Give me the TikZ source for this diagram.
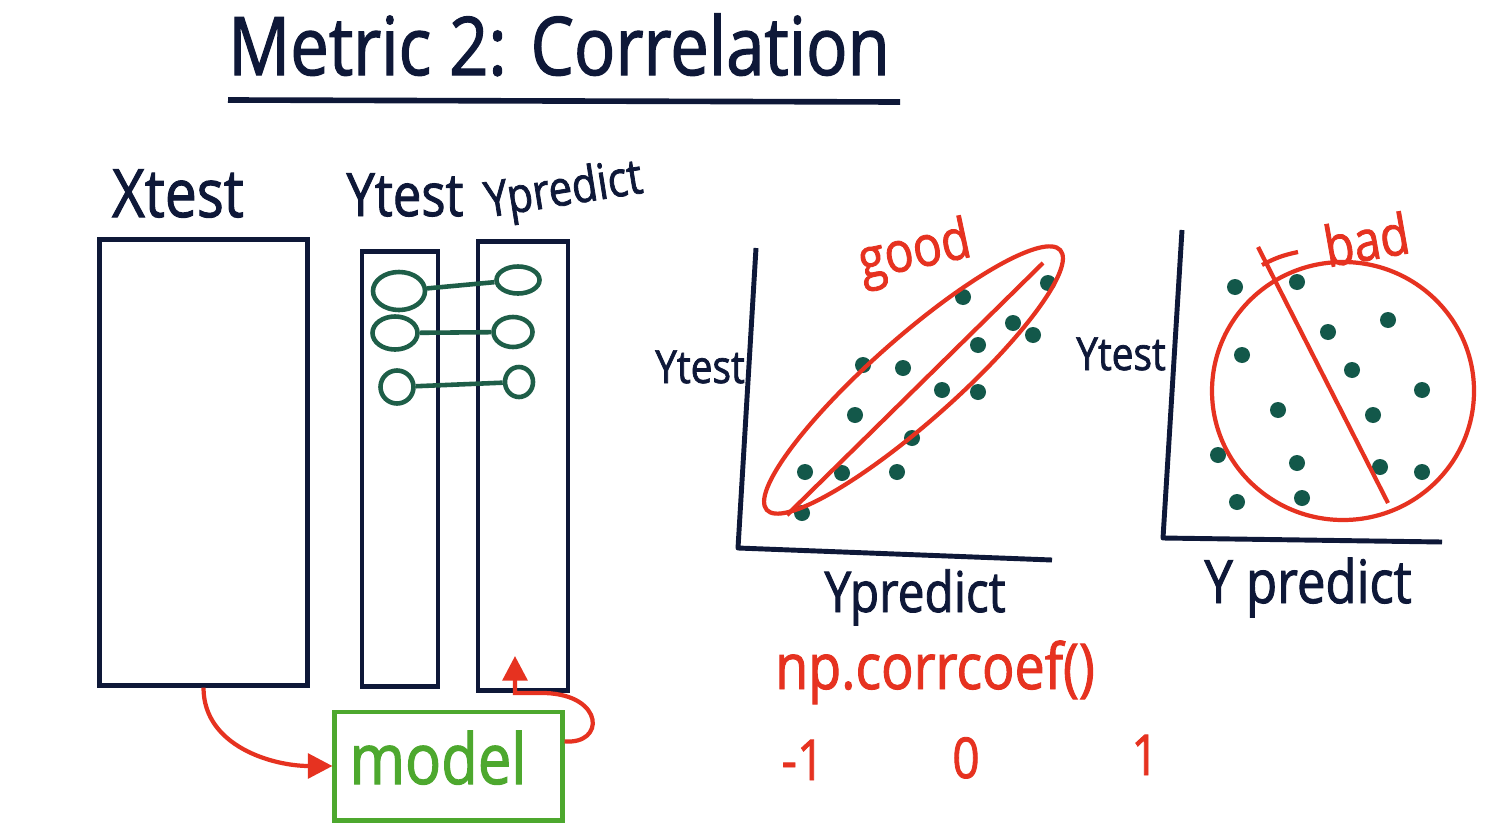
\documentclass[tikz,border=0pt]{standalone}
\usepackage{fontspec}
\setmainfont{Open Sans}
\newfontfamily\hand[FakeStretch=0.85,FakeBold=1.5]{Open Sans}
\newcommand\hw[1]{\hand\fontsize{#1}{#1}\selectfont}
\usetikzlibrary{arrows.meta,positioning,shapes.geometric}
\definecolor{ink}{HTML}{0E1838}
\definecolor{pen}{HTML}{E63220}
\definecolor{ovalgreen}{HTML}{1E5E48}
\definecolor{dotgreen}{HTML}{13584A}
\definecolor{boxgreen}{HTML}{4DA82E}

\begin{document}
\begin{tikzpicture}[x=0.01cm,y=-0.01cm,>=Stealth,
 lbl/.style={text=ink,inner sep=0pt,anchor=base},
 col/.style={draw=ink,line width=1.4pt,inner sep=0pt},
 pt/.style={draw=ovalgreen,ellipse,line width=1.3pt,inner sep=0pt},
 link/.style={draw=ovalgreen,line width=1.3pt},
 axis/.style={draw=ink,line width=1.4pt,line join=round},
 redln/.style={draw=pen,line width=1.2pt},
 arr/.style={draw=pen,line width=1.2pt,-{Triangle[length=7pt,width=7pt]}}]
\fill[white] (0,0) rectangle (1503,824);
\useasboundingbox (0,0) rectangle (1503,824);

\node[lbl,font=\hw{23}] (title) at (559,75) {Metric 2: Correlation};
\draw[ink,line width=1.6pt] (228,100) -- (900,102);

\node[col,minimum width=2.07cm,minimum height=4.45cm] (xtest) at (203.5,462.5) {};
\node[col,minimum width=0.76cm,minimum height=4.34cm] (ytest) at (400,469) {};
\node[col,minimum width=0.90cm,minimum height=4.48cm] (ypred) at (523,466) {};
\node[lbl,font=\hw{19}] (xlbl) at (178,217) {Xtest};
\node[lbl,font=\hw{17}] (ylbl) at (405,216) {Ytest};
\node[lbl,font=\hw{14},rotate=9] (plbl) at (566,205) {Ypredict};

\node[pt,minimum width=0.52cm,minimum height=0.38cm] (l1) at (399,291) {};
\node[pt,minimum width=0.45cm,minimum height=0.33cm] (l2) at (395,333) {};
\node[pt,minimum width=0.33cm,minimum height=0.33cm] (l3) at (397,387) {};
\node[pt,minimum width=0.43cm,minimum height=0.27cm] (r1) at (518,280) {};
\node[pt,minimum width=0.39cm,minimum height=0.30cm] (r2) at (513,332) {};
\node[pt,minimum width=0.28cm,minimum height=0.30cm] (r3) at (519,382) {};
\draw[link] (l1) -- (r1);
\draw[link] (l2) -- (r2);
\draw[link] (l3) -- (r3);

\node[draw=boxgreen,line width=1.4pt,minimum width=2.27cm,minimum height=1.08cm] (model) at (448.5,766) {};
\node[lbl,text=boxgreen,font=\hw{20}] (mlbl) at (438,784) {model};
\coordinate (feed) at (515,656);
\draw[arr] (xtest.south) to[out=-90,in=180] (model.west);
\draw[arr] (model.12) .. controls (605,745) and (605,695) .. (545,693) -| (feed);

\draw[axis] (756,248) -- (738,548) -- (1052,560);
\node[lbl,font=\hw{13}] (g1y) at (700,383) {Ytest};
\node[lbl,font=\hw{16}] (g1x) at (915,612) {Ypredict};
\node[lbl,text=pen,font=\hw{16},rotate=12] (good) at (918,268) {good};
\foreach \p in {(802,513),(805,472),(842,473),(897,472),(855,415),(912,438),
 (863,365),(903,368),(942,390),(978,392),(978,345),(1013,323),(1033,335),
 (963,297),(1048,283)}
 \fill[dotgreen] \p circle (8);
\draw[redln,rotate around={41.5:(913.5,380)}] (913.5,380) ellipse [x radius=196, y radius=42];
\draw[redln] (787,515) -- (1043,263);

\draw[axis] (1182,230) -- (1163,538) -- (1442,542);
\node[lbl,font=\hw{13}] (g2y) at (1121,370) {Ytest};
\node[lbl,font=\hw{17}] (g2x) at (1308,603) {Y predict};
\node[lbl,text=pen,font=\hw{16},rotate=10] (bad) at (1370,260) {bad};
\foreach \p in {(1235,287),(1297,282),(1388,320),(1328,332),(1242,355),
 (1352,370),(1422,390),(1278,410),(1373,415),(1218,455),(1297,463),
 (1380,467),(1422,472),(1237,502),(1302,498)}
 \fill[dotgreen] \p circle (8);
\draw[redln] (1343,391) circle [x radius=131, y radius=129];
\draw[redln] (1262,265) to[bend left=8] (1298,252);
\draw[redln] (1258,247) -- (1388,503);

\node[lbl,text=pen,font=\hw{18}] (corr) at (935,689) {np.corrcoef()};
\node[lbl,text=pen,font=\hw{16}] (lo) at (803,780) {-1};
\node[lbl,text=pen,font=\hw{16}] (mid) at (966,778) {0};
\node[lbl,text=pen,font=\hw{16}] (hi) at (1145,775) {1};
\end{tikzpicture}
\end{document}
